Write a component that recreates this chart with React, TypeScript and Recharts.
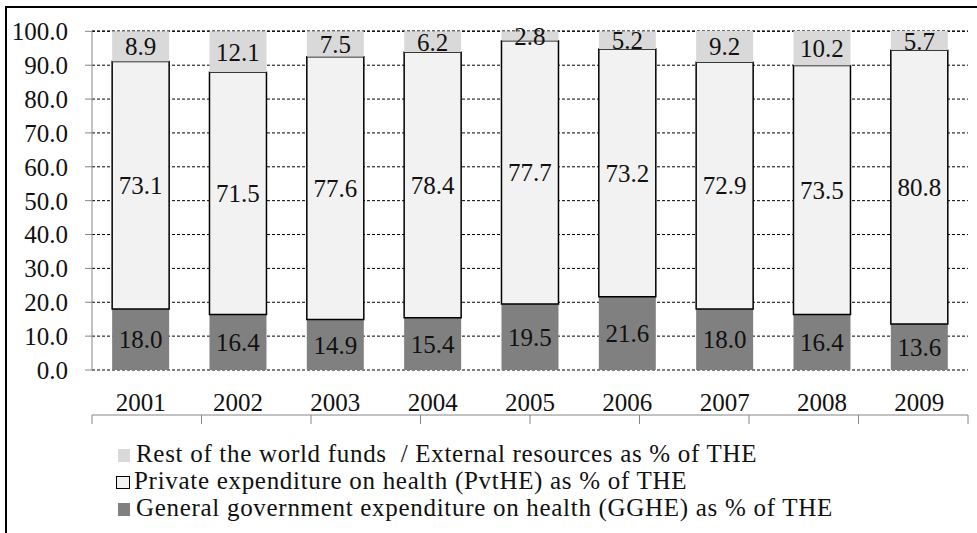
import { BarChart, Bar, XAxis, YAxis, CartesianGrid, Legend, LabelList } from 'recharts';

const YEARS = ['2001', '2002', '2003', '2004', '2005', '2006', '2007', '2008', '2009'];
const GGHE = [18.0, 16.4, 14.9, 15.4, 19.5, 21.6, 18.0, 16.4, 13.6];
const PVTHE = [73.1, 71.5, 77.6, 78.4, 77.7, 73.2, 72.9, 73.5, 80.8];
const EXTERNAL = [8.9, 12.1, 7.5, 6.2, 2.8, 5.2, 9.2, 10.2, 5.7];

const Y_TICKS = [0, 10, 20, 30, 40, 50, 60, 70, 80, 90, 100];
// category boundaries, for the small tick marks under the x axis
const EDGE_TICKS = [0, 1, 2, 3, 4, 5, 6, 7, 8, 9];

const NAME_GGHE = 'General government expenditure on health (GGHE) as % of THE';
const NAME_PVT = 'Private expenditure on health (PvtHE) as % of THE';
const NAME_EXT = 'Rest of the world funds  / External resources as % of THE';

const DARK = '#808080';
const PALE = '#f2f2f2';
const LIGHT = '#d9d9d9';
const AXIS_GRAY = '#868686';
const FONT = 'Liberation Serif, Tinos, DejaVu Serif, serif';

const data = YEARS.map((year, i) => ({ year, gghe: GGHE[i], pvt: PVTHE[i], ext: EXTERNAL[i] }));

const TEXT = { fill: '#111', fontSize: 25, fontFamily: FONT };

function LegendBox({ payload }: any) {
  const items = [...(payload ?? [])].reverse();
  return (
    <div style={{ fontFamily: FONT, fontSize: 25, lineHeight: '27px', letterSpacing: '0.7px', color: '#111' }}>
      {items.map((it: any) => (
        <div key={it.value} style={{ whiteSpace: 'pre' }}>
          <span
            style={{
              display: 'inline-block',
              width: it.value === NAME_PVT ? 14 : 12,
              height: 13,
              marginRight: it.value === NAME_PVT ? 4 : 6,
              marginLeft: it.value === NAME_PVT ? 0 : 2,
              boxSizing: 'border-box',
              background: it.color,
              border: it.value === NAME_PVT ? '1px solid #000' : 'none',
            }}
          />
          {it.value}
        </div>
      ))}
    </div>
  );
}

export default function App() {
  return (
    <div style={{ position: 'absolute', left: 0, top: 0, width: 977, height: 533, background: '#fff', fontFamily: FONT }}>
      <div
        style={{
          position: 'absolute',
          left: 5,
          top: 6,
          width: 972,
          height: 527,
          borderTop: '2px solid #000',
          borderLeft: '2px solid #000',
        }}
      />
      <BarChart
        width={977}
        height={533}
        data={data}
        margin={{ top: 31, right: 9, left: 0, bottom: 117 }}
        barCategoryGap="20.7%"
      >
        <CartesianGrid vertical={false} stroke="#000" strokeDasharray="3 2" />
        <XAxis
          xAxisId="edges"
          type="number"
          domain={[0, 9]}
          ticks={EDGE_TICKS}
          allowDataOverflow
          height={1}
          stroke={AXIS_GRAY}
          tickLine={{ stroke: AXIS_GRAY }}
          tickSize={9}
          tickFormatter={() => ''}
        />
        <XAxis
          dataKey="year"
          height={45}
          axisLine={false}
          tickLine={false}
          tickSize={0}
          tickMargin={23}
          tick={TEXT}
        />
        <YAxis
          width={92}
          domain={[0, 100]}
          ticks={Y_TICKS}
          tickFormatter={(v: number) => v.toFixed(1)}
          stroke={AXIS_GRAY}
          tickLine={{ stroke: AXIS_GRAY }}
          tickSize={7}
          tickMargin={17}
          tick={TEXT}
        />
        <Bar dataKey="gghe" name={NAME_GGHE} stackId="a" fill={DARK} isAnimationActive={false}>
          <LabelList dataKey="gghe" position="center" formatter={(v: number) => v.toFixed(1)} style={TEXT} />
        </Bar>
        <Bar dataKey="pvt" name={NAME_PVT} stackId="a" fill={PALE} stroke="#000" strokeWidth={1.5} isAnimationActive={false}>
          <LabelList dataKey="pvt" position="center" formatter={(v: number) => v.toFixed(1)} style={TEXT} />
        </Bar>
        <Bar dataKey="ext" name={NAME_EXT} stackId="a" fill={LIGHT} isAnimationActive={false}>
          <LabelList dataKey="ext" position="center" formatter={(v: number) => v.toFixed(1)} style={TEXT} />
        </Bar>
        <Legend
          layout="vertical"
          align="center"
          verticalAlign="middle"
          content={<LegendBox />}
          wrapperStyle={{ top: 440, left: 116, width: 'auto', height: 'auto' }}
        />
      </BarChart>
    </div>
  );
}
